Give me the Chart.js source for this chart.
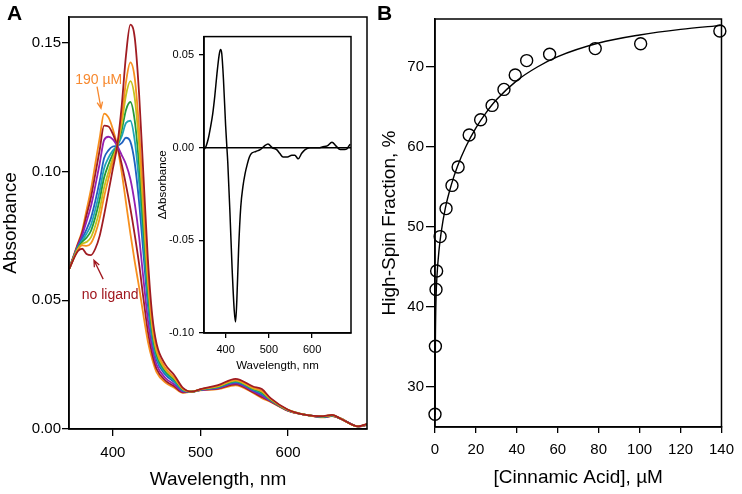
<!DOCTYPE html>
<html>
<head>
<meta charset="utf-8">
<script src="https://cdn.jsdelivr.net/npm/chart.js@4.4.1/dist/chart.umd.min.js"></script>
<style>
  body { margin: 0; background: #fff; }
  #wrap { position: relative; width: 742px; height: 494px; overflow: hidden; font-family: "Liberation Sans", Arial, sans-serif; }
  canvas { position: absolute; }
  .lbl { position: absolute; font-weight: bold; font-size: 21px; color: #000; }
</style>
</head>
<body>
<div id="wrap">
  <canvas id="specA" width="375" height="494" style="left:0px;top:0px"></canvas>
  <canvas id="diffA" width="200" height="355" style="left:155px;top:25px"></canvas>
  <canvas id="bindB" width="367" height="494" style="left:375px;top:0px"></canvas>
  <div class="lbl" style="left:7px;top:1px">A</div>
  <div class="lbl" style="left:377px;top:1px">B</div>
</div>
<script>
// ---- panel A: absorbance spectra during titration ----
const wavelengths = [350, 360, 365, 370, 375, 380, 385, 390, 395, 400, 405, 410, 415, 420, 425, 430, 435, 440, 445, 450,
  460, 470, 480, 490, 500, 520, 540, 560, 570, 580, 600, 620, 640, 650, 660, 680, 690];
const abs0 = [0.062, 0.069, 0.070, 0.068, 0.0675, 0.070, 0.075, 0.083, 0.092, 0.101, 0.110, 0.125, 0.145, 0.157, 0.152, 0.130, 0.098, 0.066, 0.044, 0.033,
  0.025, 0.021, 0.016, 0.0145, 0.0155, 0.017, 0.0195, 0.0165, 0.0155, 0.012, 0.0075, 0.0055, 0.005, 0.0055, 0.004, 0.001, 0.002]; // no ligand
const abs1 = [0.062, 0.0695, 0.0713, 0.0711, 0.0721, 0.0759, 0.0818, 0.0901, 0.0972, 0.1038, 0.110, 0.1205, 0.1347, 0.1424, 0.1363, 0.1165, 0.0883, 0.0602, 0.0409, 0.0310,
  0.0237, 0.0201, 0.0156, 0.0145, 0.0154, 0.0167, 0.0191, 0.0161, 0.0149, 0.0117, 0.0074, 0.0055, 0.0049, 0.0054, 0.004, 0.001, 0.0019];
const abs2 = [0.062, 0.0698, 0.0719, 0.0726, 0.0744, 0.0789, 0.0853, 0.0937, 0.0998, 0.1052, 0.110, 0.1183, 0.1296, 0.1351, 0.1285, 0.1098, 0.0834, 0.0574, 0.0394, 0.0300,
  0.0231, 0.0197, 0.0155, 0.0145, 0.0154, 0.0166, 0.0188, 0.0158, 0.0146, 0.0116, 0.0074, 0.0055, 0.0049, 0.0054, 0.004, 0.001, 0.0019];
const abs3 = [0.062, 0.0701, 0.0726, 0.0743, 0.0769, 0.0822, 0.0891, 0.0976, 0.1027, 0.1067, 0.110, 0.1158, 0.1239, 0.1270, 0.1198, 0.1023, 0.0780, 0.0542, 0.0377, 0.0289,
  0.0224, 0.0192, 0.0153, 0.0145, 0.0153, 0.0164, 0.0186, 0.0156, 0.0142, 0.0114, 0.0073, 0.0055, 0.0048, 0.0053, 0.004, 0.001, 0.0018];
const abs4 = [0.062, 0.0704, 0.0732, 0.0758, 0.0792, 0.0852, 0.0925, 0.1012, 0.1053, 0.1081, 0.110, 0.1135, 0.1188, 0.1197, 0.1120, 0.0955, 0.0732, 0.0513, 0.0362, 0.0279,
  0.0218, 0.0187, 0.0151, 0.0145, 0.0153, 0.0163, 0.0184, 0.0154, 0.0139, 0.0113, 0.0073, 0.0055, 0.0048, 0.0053, 0.004, 0.001, 0.0018];
const abs5 = [0.062, 0.0707, 0.0739, 0.0775, 0.0818, 0.0885, 0.0963, 0.1051, 0.1082, 0.1097, 0.110, 0.1110, 0.1131, 0.1116, 0.1033, 0.0880, 0.0678, 0.0481, 0.0345, 0.0268,
  0.0211, 0.0182, 0.0149, 0.0145, 0.0152, 0.0162, 0.0181, 0.0151, 0.0135, 0.0112, 0.0072, 0.0055, 0.0047, 0.0052, 0.004, 0.001, 0.0017];
const abs6 = [0.062, 0.0712, 0.0752, 0.0806, 0.0864, 0.0944, 0.1031, 0.1122, 0.1135, 0.1125, 0.110, 0.1065, 0.1028, 0.0971, 0.0876, 0.0745, 0.0580, 0.0423, 0.0314, 0.0249,
  0.0198, 0.0173, 0.0145, 0.0145, 0.0151, 0.0159, 0.0177, 0.0147, 0.0129, 0.0109, 0.0071, 0.0055, 0.0046, 0.0051, 0.004, 0.001, 0.0016];
const abs7 = [0.062, 0.0716, 0.0762, 0.0830, 0.0899, 0.0990, 0.1084, 0.1178, 0.1175, 0.1146, 0.110, 0.1030, 0.0948, 0.0857, 0.0754, 0.0640, 0.0505, 0.0378, 0.0290, 0.0233,
  0.0188, 0.0166, 0.0142, 0.0145, 0.0151, 0.0157, 0.0173, 0.0143, 0.0124, 0.0107, 0.0071, 0.0055, 0.0046, 0.0051, 0.004, 0.001, 0.0016];
const abs8 = [0.062, 0.072, 0.077, 0.085, 0.093, 0.103, 0.113, 0.1225, 0.121, 0.1165, 0.110, 0.100, 0.088, 0.076, 0.065, 0.055, 0.044, 0.034, 0.027, 0.022,
  0.018, 0.016, 0.014, 0.0145, 0.015, 0.0155, 0.017, 0.014, 0.012, 0.0105, 0.007, 0.0055, 0.0045, 0.005, 0.004, 0.001, 0.0015]; // 190 uM
const spectraColors = ["#a01c22", "#f7901e", "#c3c21c", "#23993c", "#1ea5b8", "#2060c0", "#9420b0", "#a01c22", "#f7901e"];
const ticksAX = [400, 500, 600];
const ticksAY = [0, 0.05, 0.10, 0.15];

// inset: difference spectrum
const diffWl = [350, 355, 360, 365, 370, 375, 380, 385, 388, 391, 395, 400, 403, 405, 410, 415, 420, 423, 426, 430,
  435, 440, 445, 450, 455, 460, 470, 480, 490, 498, 508, 518, 525, 533, 543, 553, 560, 568, 576, 584,
  595, 605, 615, 625, 635, 646, 655, 665, 675, 681, 688];
const diffAbs = [-0.001, 0.001, 0.005, 0.011, 0.018, 0.028, 0.040, 0.050, 0.053, 0.051, 0.037, 0.012, 0.000, -0.008, -0.035, -0.065, -0.088, -0.094, -0.082, -0.055,
  -0.032, -0.021, -0.014, -0.009, -0.005, -0.003, -0.002, -0.001, 0.001, 0.002, 0.000, -0.001, -0.003, -0.005, -0.005, -0.004, -0.004, -0.006, -0.003, -0.001,
  0.000, 0.000, 0.000, 0.0005, 0.001, 0.003, 0.001, -0.001, -0.001, -0.0005, 0.002];
const ticksInsetX = [400, 500, 600];
const ticksInsetY = [-0.10, -0.05, 0, 0.05];

// ---- panel B: high-spin fraction vs cinnamic acid ----
const cinnamicConc = [0, 0.2, 0.5, 0.8, 2.5, 5.4, 8.3, 11.3, 16.7, 22.3, 27.9, 33.7, 39.2, 44.8, 56, 78.3, 100.5, 139.2];
const highSpinPct = [26.6, 35.1, 42.2, 44.5, 48.8, 52.3, 55.2, 57.5, 61.5, 63.4, 65.2, 67.2, 69.0, 70.8, 71.6, 72.3, 72.9, 74.5];
const fitConc = [0, 0.2, 0.5, 1, 2, 3, 5, 8, 11, 15, 20, 25, 30, 40, 50, 60, 80, 100, 120, 140];
const fitPct = [26.5, 36, 41, 44, 47.2, 49.3, 52.3, 55.3, 57.6, 60, 62.4, 64.3, 65.9, 68.3, 70, 71.3, 73, 74, 74.7, 75.2];
const ticksBX = [0, 20, 40, 60, 80, 100, 120, 140];
const ticksBY = [30, 40, 50, 60, 70];

const FONT = '"Liberation Sans", Arial, sans-serif';
Chart.defaults.font.family = FONT;
Chart.defaults.color = "#000";

const pts = (xs, ys) => xs.map((x, i) => ({ x: x, y: ys[i] }));

function axis(o) {
  return {
    type: "linear",
    min: o.min,
    max: o.max,
    afterBuildTicks: s => { s.ticks = o.ticks.map(v => ({ value: v })); },
    afterFit: s => { if (o.isX) s.height = o.size; else s.width = o.size; },
    grid: { display: true, drawOnChartArea: false, drawTicks: true, tickLength: o.tl, color: "#000", lineWidth: 1.3 },
    border: { display: true, color: "#000", width: 1.5 },
    ticks: { color: "#000", font: { size: o.fs }, padding: o.pad, maxRotation: 0, autoSkip: false, callback: o.fmt },
    title: { display: true, text: o.title, color: "#000", font: { size: o.tfs }, padding: o.tpad }
  };
}

const frame = {
  id: "frame",
  afterDatasetsDraw(chart) {
    const { ctx, chartArea: a } = chart;
    ctx.save();
    ctx.strokeStyle = "#000";
    ctx.lineWidth = 1.5;
    ctx.strokeRect(a.left, a.top, a.right - a.left, a.bottom - a.top);
    ctx.restore();
  }
};

function arrow(ctx, x0, y0, x1, y1, color) {
  const ang = Math.atan2(y1 - y0, x1 - x0);
  ctx.save();
  ctx.strokeStyle = color;
  ctx.lineWidth = 1.3;
  ctx.beginPath();
  ctx.moveTo(x0, y0); ctx.lineTo(x1, y1);
  ctx.moveTo(x1 - 7 * Math.cos(ang - 0.4), y1 - 7 * Math.sin(ang - 0.4));
  ctx.lineTo(x1, y1);
  ctx.lineTo(x1 - 7 * Math.cos(ang + 0.4), y1 - 7 * Math.sin(ang + 0.4));
  ctx.stroke();
  ctx.restore();
}

const notes = {
  id: "notes",
  afterDatasetsDraw(chart) {
    const { ctx, scales: { x, y } } = chart;
    ctx.save();
    ctx.font = "14px " + FONT;
    ctx.textBaseline = "alphabetic";
    ctx.fillStyle = "#f7892f";
    ctx.fillText("190 µM", x.getPixelForValue(357), y.getPixelForValue(0.134));
    arrow(ctx, x.getPixelForValue(382), y.getPixelForValue(0.133), x.getPixelForValue(386.5), y.getPixelForValue(0.1245), "#f7892f");
    ctx.fillStyle = "#a0171e";
    ctx.fillText("no ligand", x.getPixelForValue(364.5), y.getPixelForValue(0.0505));
    arrow(ctx, x.getPixelForValue(389), y.getPixelForValue(0.0582), x.getPixelForValue(378.5), y.getPixelForValue(0.0655), "#a0171e");
    ctx.restore();
  }
};

const zeroLine = {
  id: "zeroLine",
  beforeDatasetsDraw(chart) {
    const { ctx, chartArea: a, scales: { y } } = chart;
    const yy = y.getPixelForValue(0);
    ctx.save();
    ctx.strokeStyle = "#000";
    ctx.lineWidth = 1.3;
    ctx.beginPath();
    ctx.moveTo(a.left, yy); ctx.lineTo(a.right, yy);
    ctx.stroke();
    ctx.restore();
  }
};

const spectra = [abs0, abs1, abs2, abs3, abs4, abs5, abs6, abs7, abs8];

new Chart(document.getElementById("specA"), {
  type: "line",
  data: {
    datasets: spectra.map((s, i) => ({
      data: pts(wavelengths, s),
      borderColor: spectraColors[i],
      borderWidth: 1.8,
      pointRadius: 0,
      fill: false,
      cubicInterpolationMode: "monotone"
    }))
  },
  options: {
    responsive: false,
    animation: false,
    events: [],
    layout: { padding: { top: 17, right: 8, bottom: 0, left: 0 } },
    plugins: { legend: { display: false }, tooltip: { enabled: false } },
    scales: {
      x: axis({ isX: true, min: 350, max: 690, ticks: ticksAX, size: 65, tl: 7, fs: 15, pad: 8, fmt: v => String(v),
        title: "Wavelength, nm", tfs: 19, tpad: { top: 0, bottom: 3 } }),
      y: axis({ min: 0, max: 0.16, ticks: ticksAY, size: 69, tl: 7, fs: 15, pad: 1, fmt: v => v.toFixed(2),
        title: "Absorbance", tfs: 19, tpad: { top: -1, bottom: 0 } })
    }
  },
  plugins: [frame, notes]
});

new Chart(document.getElementById("diffA"), {
  type: "line",
  data: {
    datasets: [{
      data: pts(diffWl, diffAbs),
      borderColor: "#000",
      borderWidth: 1.5,
      pointRadius: 0,
      fill: false,
      cubicInterpolationMode: "monotone"
    }]
  },
  options: {
    responsive: false,
    animation: false,
    events: [],
    layout: { padding: { top: 6, right: 4, bottom: 0, left: 0 } },
    plugins: { legend: { display: false }, tooltip: { enabled: false } },
    scales: {
      x: axis({ isX: true, min: 350, max: 690, ticks: ticksInsetX, size: 47, tl: 5, fs: 11, pad: 5, fmt: v => String(v),
        title: "Wavelength, nm", tfs: 11.5, tpad: { top: 0, bottom: 7 } }),
      y: axis({ min: -0.10, max: 0.06, ticks: ticksInsetY, size: 49, tl: 5, fs: 11, pad: 5, fmt: v => v.toFixed(2),
        title: "ΔAbsorbance", tfs: 11.5, tpad: { top: 1, bottom: 0 } })
    }
  },
  plugins: [frame, zeroLine]
});

new Chart(document.getElementById("bindB"), {
  type: "line",
  data: {
    datasets: [
      {
        data: pts(fitConc, fitPct),
        borderColor: "#000",
        borderWidth: 1.4,
        pointRadius: 0,
        fill: false,
        cubicInterpolationMode: "monotone"
      },
      {
        data: pts(cinnamicConc, highSpinPct),
        showLine: false,
        pointStyle: "circle",
        pointRadius: 6,
        pointBorderWidth: 1.4,
        pointBorderColor: "#000",
        pointBackgroundColor: "rgba(0,0,0,0)",
        clip: false
      }
    ]
  },
  options: {
    responsive: false,
    animation: false,
    events: [],
    layout: { padding: { top: 19, right: 13, bottom: 0, left: 0 } },
    plugins: { legend: { display: false }, tooltip: { enabled: false } },
    scales: {
      x: axis({ isX: true, min: 0, max: 140, ticks: ticksBX, size: 67, tl: 6, fs: 15, pad: 8, fmt: v => String(v),
        title: "[Cinnamic Acid], µM", tfs: 19, tpad: { top: 0, bottom: 5 } }),
      y: axis({ min: 25, max: 76, ticks: ticksBY, size: 60, tl: 9, fs: 15, pad: 2, fmt: v => String(v),
        title: "High-Spin Fraction, %", tfs: 19, tpad: { top: 3, bottom: 0 } })
    }
  },
  plugins: [frame]
});
</script>
</body>
</html>
